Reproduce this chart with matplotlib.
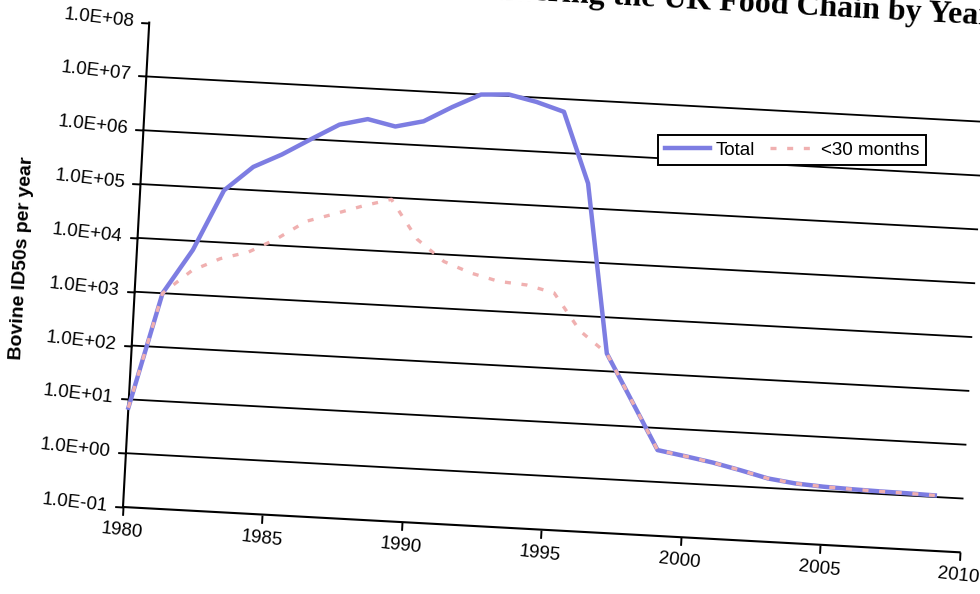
"""
Bovine ID50s entering the UK food chain by year (scanned, slightly tilted chart).

Log-scale y axis, drawn as log10 values on a floating axes rotated ~3 deg
to match the tilt of the scanned page.
"""

import numpy as np
import matplotlib
matplotlib.use("Agg")
import matplotlib.pyplot as plt
from matplotlib.transforms import Affine2D
import mpl_toolkits.axisartist.floating_axes as floating_axes
from mpl_toolkits.axisartist.grid_finder import FixedLocator, DictFormatter

# ── Data ────────────────────────────────────────────────────────────────────
years = list(range(1980, 2010))
total = [7.0, 1.0e3, 6.8e3, 9.3e4, 2.7e5, 4.9e5, 1.0e6, 2.0e6, 2.7e6, 2.1e6,
         2.8e6, 5.5e6, 1.0e7, 1.07e7, 8.3e6, 5.8e6, 2.9e5, 214, 29, 3.9,
         3.2, 2.6, 2.0, 1.5, 1.29, 1.2, 1.15, 1.12, 1.1, 1.07]
under30 = [7.0, 1.0e3, 2.8e3, 5.0e3, 7.1e3, 1.35e4, 3.0e4, 4.4e4, 6.6e4, 9.3e4,
           1.8e4, 7.4e3, 4.8e3, 3.6e3, 3.3e3, 2.5e3, 525, 214, 29, 3.9,
           3.2, 2.6, 2.0, 1.5, 1.29, 1.2, 1.15, 1.12, 1.1, 1.07]

xticks = [1980, 1985, 1990, 1995, 2000, 2005, 2010]
yexp = [-1, 0, 1, 2, 3, 4, 5, 6, 7, 8]
ylabels = ["1.0E-01", "1.0E+00", "1.0E+01", "1.0E+02", "1.0E+03",
           "1.0E+04", "1.0E+05", "1.0E+06", "1.0E+07", "1.0E+08"]
grid_exp = [0, 1, 2, 3, 4, 5, 6, 7]

title = "Bovine ID50s Entering the UK Food Chain by Year"

# ── Style ───────────────────────────────────────────────────────────────────
plt.rcParams["font.family"] = "Liberation Sans"
plt.rcParams["font.size"] = 13.5

tilt = -3.1          # scan rotation, degrees
px_year = 27.93      # pixels per year along the axis
px_dec = 53.9        # pixels per decade along the axis
blue = "#7d7de2"
pink = "#f0b0b0"

# ── Axes ────────────────────────────────────────────────────────────────────
W, H = 980, 594
fig = plt.figure(figsize=(W / 100, H / 100), dpi=100)

tr = Affine2D().scale(px_year, px_dec).rotate_deg(tilt)
helper = floating_axes.GridHelperCurveLinear(
    tr, extremes=(xticks[0], xticks[-1], yexp[0], yexp[-1]),
    grid_locator1=FixedLocator(xticks),
    tick_formatter1=DictFormatter({x: str(x) for x in xticks}),
    grid_locator2=FixedLocator(yexp),
    tick_formatter2=DictFormatter(dict(zip(yexp, ylabels))),
)

# bounding box of the rotated plot area (pixels), origin at (1980, 1e-1)
th = np.deg2rad(-tilt)
wpx = (xticks[-1] - xticks[0]) * px_year
hpx = (yexp[-1] - yexp[0]) * px_dec
bw = wpx * np.cos(th) + hpx * np.sin(th)
bh = wpx * np.sin(th) + hpx * np.cos(th)
x0, y0 = 123, 507                     # origin in image pixels (y down)
cx = x0 + bw / 2
cy = (y0 - hpx * np.cos(th) + y0 + wpx * np.sin(th)) / 2
aw, ah = bw * 1.02, bh * 1.02
rect = [(cx - aw / 2) / W, (H - cy - ah / 2) / H, aw / W, ah / H]

ax = fig.add_axes(rect, axes_class=floating_axes.FloatingAxes, grid_helper=helper)
ax.patch.set_visible(False)
ax.axis["top"].set_visible(False)
ax.axis["right"].set_visible(False)
for side in ["left", "bottom"]:
    a = ax.axis[side]
    a.line.set_linewidth(1.5)
    a.major_ticks.set_tick_out(True)
    a.major_ticks.set_ticksize(6)
    a.major_ticks.set_markeredgewidth(1.4)
    a.major_ticklabels.set_fontsize(13.5)
    a.major_ticklabels.set_pad(5)
# tilt the tick labels with the page (left labels default to 90 deg)
ax.axis["bottom"].major_ticklabels.set_rotation(tilt)
ax.axis["left"].major_ticklabels.set_rotation(90 + tilt)

aux = ax.get_aux_axes(tr)

# horizontal gridlines
for e in grid_exp:
    aux.plot([xticks[0], xticks[-1]], [e, e], color="black", lw=1.3, zorder=1)

l_tot, = aux.plot(years, np.log10(total), color=blue, lw=3.2,
                  solid_joinstyle="round", zorder=3)
l_u30, = aux.plot(years, np.log10(under30), color=pink, lw=2.4,
                  linestyle=(0, (1.8, 3.2)), zorder=4)

# ── Text ────────────────────────────────────────────────────────────────────
fig.text(22 / W, 1 - 258 / H, "Bovine ID50s per year", rotation=90 + tilt,
         ha="center", va="center", fontsize=14, fontweight="bold")

# title runs off the top/right of the scanned page
fig.text(992 / W, 1 - 25 / H, title, ha="right", va="baseline",
         rotation=tilt, rotation_mode="anchor", fontsize=23,
         fontweight="bold", family="Liberation Serif")

leg = fig.legend([l_tot, l_u30], ["Total", "<30 months"], ncol=2,
                 loc="center", bbox_to_anchor=(792 / W, 1 - 150 / H),
                 fancybox=False, framealpha=1, edgecolor="black",
                 handlelength=2.4, handletextpad=0.3, columnspacing=0.8,
                 borderpad=0.35, fontsize=13.5)
leg.get_frame().set_linewidth(1.4)

fig.savefig("out.png", dpi=100)
